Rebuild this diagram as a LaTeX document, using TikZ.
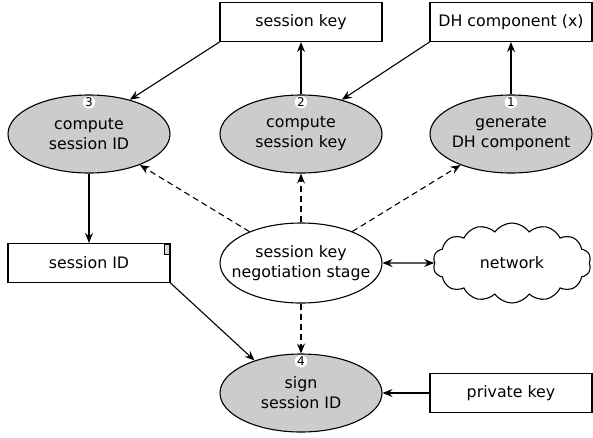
\documentclass[tikz,border=0pt]{standalone}
\usepackage{fontspec}
\setmainfont{DejaVu Sans}
\usetikzlibrary{positioning,shapes.geometric,shapes.symbols,arrows.meta}

\tikzset{
  stepnode/.style={ellipse, draw, fill=gray!40, minimum width=162pt, minimum height=78pt,
    inner xsep=-20pt, inner ysep=0pt, align=center},
  datanode/.style={rectangle, draw, fill=white, minimum width=162pt, minimum height=39pt, inner sep=0pt},
  num/.style={circle, fill=white, inner sep=0pt, minimum size=12.5pt, font=\fontsize{12}{12}\selectfont},
  ctrl/.style={->, dash pattern=on 6pt off 4pt},
}

\begin{document}
\begin{tikzpicture}[x=1pt,y=-1pt,line width=1.1pt,
  >={Stealth[length=10pt,width=8pt,inset=3.5pt]},
  font=\fontsize{15.8}{20}\selectfont]
\useasboundingbox (0,0) rectangle (593,437);
% data boxes
\node[datanode] (skey) at (301,22) {session key};
\node[datanode] (dhx) at (511,22) {DH component (x)};
\node[datanode] (sid) at (89,263) {session ID};
\node[datanode] (pkey) at (511,393) {private key};
\draw[fill=gray!30, line width=0.8pt] (164,244) rectangle (169,254);
% steps
\node[stepnode] (csid) at (89,134) {compute\\session ID};
\node[stepnode] (cskey) at (301,134) {compute\\session key};
\node[stepnode] (gdh) at (511,134) {generate\\DH component};
\node[stepnode] (sign) at (301,393) {sign\\session ID};
\node[num, below=1pt of csid.north] (n3) {3};
\node[num, below=1pt of cskey.north] (n2) {2};
\node[num, below=1pt of gdh.north] (n1) {1};
\node[num, below=1pt of sign.north] (n4) {4};
% stage and network
\node[stepnode, fill=white, minimum height=80pt] (neg) at (301,263) {session key\\negotiation stage};
\node[cloud, draw, cloud puffs=14, cloud puff arc=110, aspect=2.2,
  minimum width=158pt, minimum height=80pt, inner sep=0pt] (net) at (512,263) {network};
% flows
\draw[->] (skey.south west) -- (csid.40);
\draw[->] (cskey) -- (skey);
\draw[->] (dhx.south west) -- (cskey.40);
\draw[->] (gdh) -- (dhx);
\draw[->] (csid) -- (sid);
\draw[->] (sid.south east) -- (sign.145);
\draw[->] (pkey) -- (sign);
\draw[<->] (neg) -- (net);
\draw[ctrl] (neg) -- (csid);
\draw[ctrl] (neg) -- (cskey);
\draw[ctrl] (neg) -- (gdh);
\draw[ctrl] (neg) -- (sign);
\end{tikzpicture}
\end{document}
